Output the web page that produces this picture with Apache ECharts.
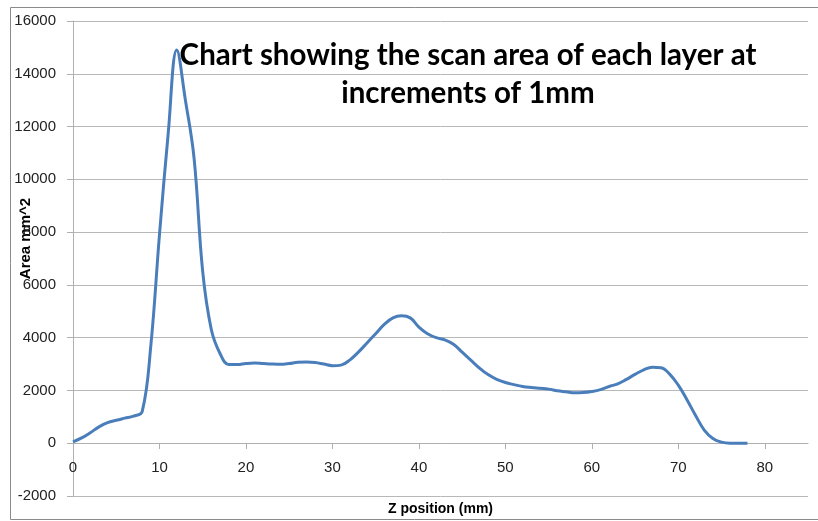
<!DOCTYPE html>
<html><head><meta charset="utf-8">
<script src="https://cdn.jsdelivr.net/npm/echarts@6/dist/echarts.min.js"></script>
<style>html,body{margin:0;padding:0;background:#fff}#c{width:818px;height:521px}</style>
</head><body><div id="c"></div>
<script>
// Z position (mm) at 1 mm increments
const zPositions = [0,1,2,3,4,5,6,7,8,9,10,11,12,13,14,15,16,17,18,19,20,21,22,23,24,25,26,27,28,29,30,31,32,33,34,35,36,37,38,39,40,41,42,43,44,45,46,47,48,49,50,51,52,53,54,55,56,57,58,59,60,61,62,63,64,65,66,67,68,69,70,71,72,73,74,75,76,77,78];
// Scan area (mm^2)
const areas = [50,200,400,620,780,870,950,1030,1200,3700,7900,11700,14900,13000,10800,6500,4300,3400,2980,2980,3020,3040,3020,3000,2990,3020,3070,3080,3060,3000,2940,2960,3150,3450,3800,4150,4500,4750,4830,4750,4400,4150,4000,3920,3750,3450,3150,2850,2600,2420,2300,2220,2150,2110,2080,2050,1990,1950,1910,1920,1960,2030,2150,2250,2420,2610,2780,2880,2860,2620,2200,1650,1050,500,180,40,0,0,0];
const xTicks = [0,10,20,30,40,50,60,70,80];
const yTicks = [-2000,0,2000,4000,6000,8000,10000,12000,14000,16000];

const chart = echarts.init(document.getElementById('c'), null, {renderer:'canvas'});
chart.setOption({
  animation:false,
  backgroundColor:'#fff',
  title:{
    text:'Chart showing the scan area of each layer at\nincrements of 1mm',
    left:463, top:31, textAlign:'center',
    textStyle:{fontFamily:'Lato', fontWeight:'bold', fontSize:29.5, lineHeight:38, color:'#000'}
  },
  graphic:[{type:'rect', shape:{x:10.5,y:7.5,width:830,height:512}, style:{fill:'none', stroke:'#8a8a8a', lineWidth:1}, silent:true, z:-1}],
  grid:{left:73, right:10, top:21, bottom:25, containLabel:false, outerBoundsMode:'none'},
  xAxis:{
    type:'value', min:0, max:85, interval:10,
    position:'bottom', offset:-53,
    name:'Z position (mm)', nameLocation:'middle', nameGap:59, nameMoveOverlap:false,
    nameTextStyle:{fontFamily:'Liberation Sans', fontWeight:'bold', fontSize:14, color:'#000'},
    axisLine:{onZero:false, lineStyle:{color:'#b0b0b0', width:1}},
    axisTick:{show:true, length:6, customValues:xTicks, lineStyle:{color:'#b0b0b0'}},
    axisLabel:{customValues:xTicks, margin:17, fontFamily:'Liberation Sans', fontSize:15, color:'#222', formatter:v=>String(v)},
    splitLine:{show:false}
  },
  yAxis:{
    type:'value', min:-2000, max:16000, interval:2000,
    name:'Area mm^2', nameLocation:'middle', nameGap:40, nameRotate:90, nameMoveOverlap:false,
    nameTextStyle:{fontFamily:'Liberation Sans', fontWeight:'bold', fontSize:15, color:'#000', padding:[0,0,0,40]},
    axisLine:{show:true, onZero:false, lineStyle:{color:'#b0b0b0', width:1}},
    axisTick:{show:true, length:6, customValues:yTicks, lineStyle:{color:'#b0b0b0'}},
    axisLabel:{customValues:yTicks, margin:17, fontFamily:'Liberation Sans', fontSize:15, color:'#222', formatter:v=>String(v)},
    splitLine:{show:true, lineStyle:{color:'#b8b8b8', width:1}}
  },
  series:[{
    type:'line',
    data:zPositions.map((z,i)=>[z, areas[i]]),
    smooth:0.4,
    showSymbol:false,
    lineStyle:{color:'#4a7ebb', width:3},
    z:3
  }]
});
</script></body></html>
